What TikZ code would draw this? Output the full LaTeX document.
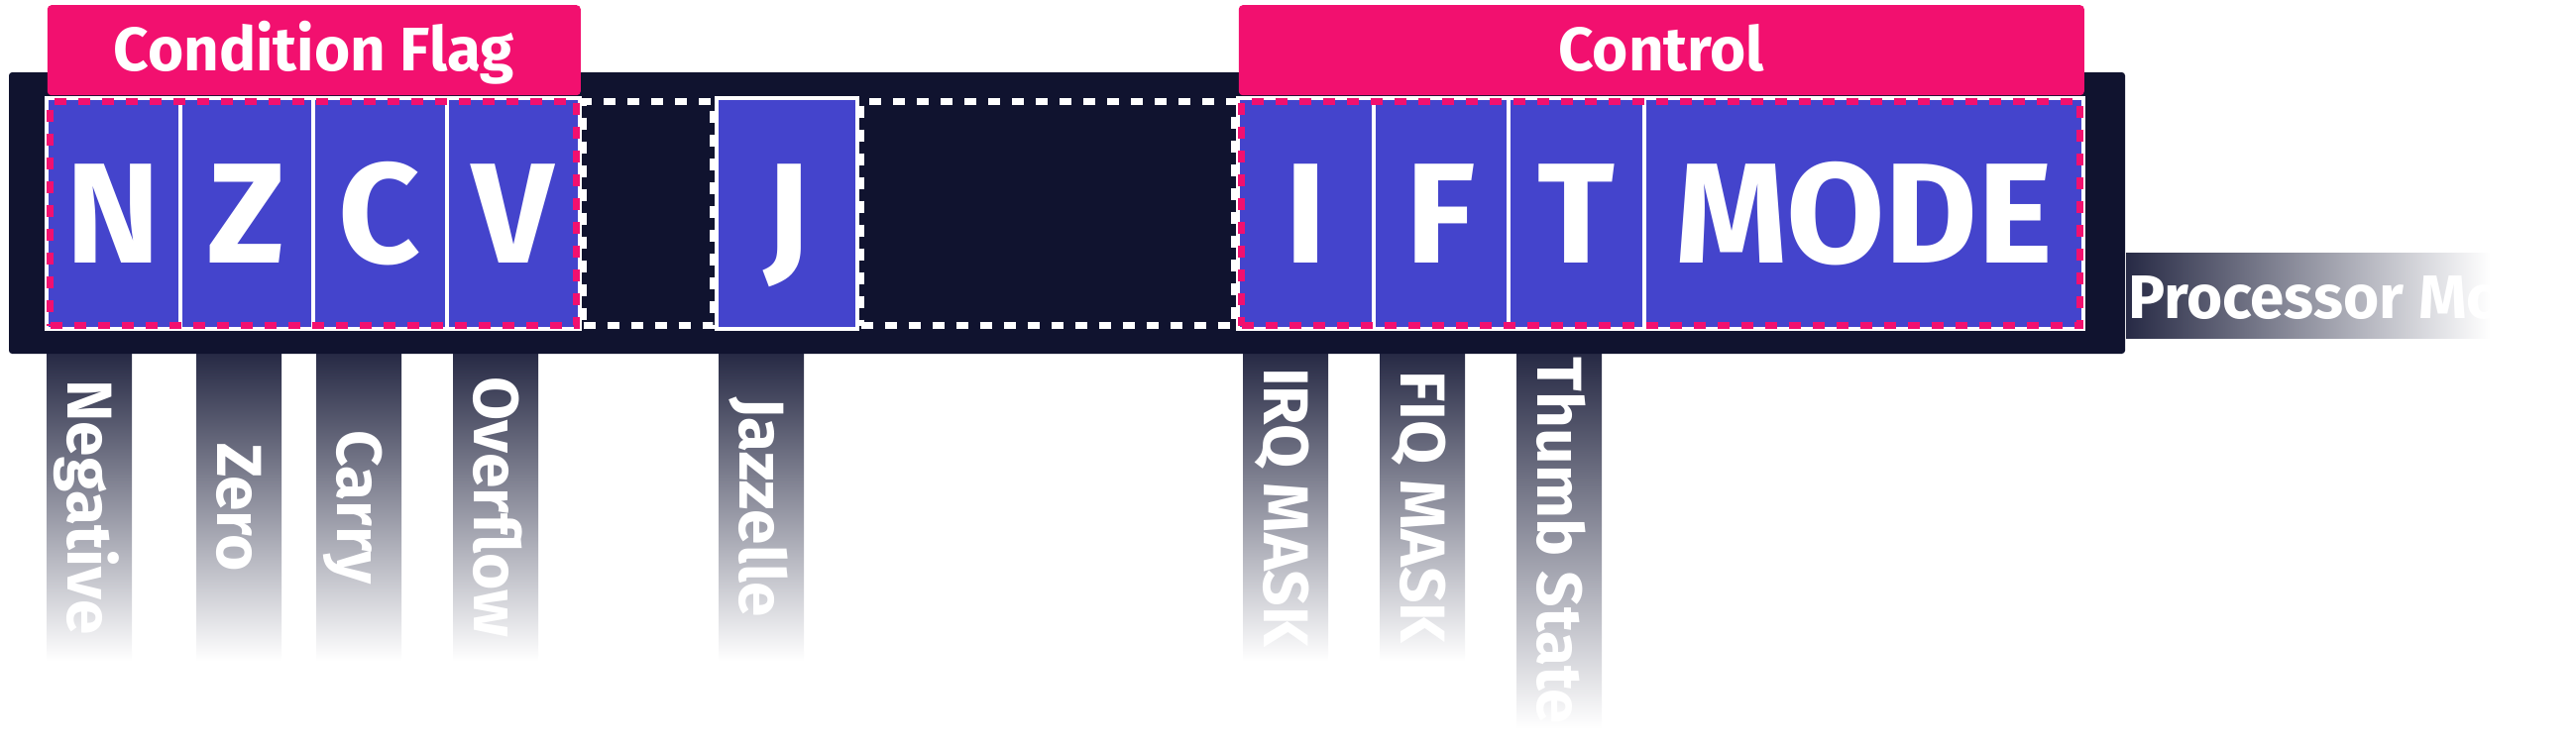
\documentclass[tikz,border=0pt]{standalone}
\usepackage{fontspec}
\setmainfont{Fira Sans}
\usepackage{graphicx}
\usetikzlibrary{positioning,fit}
\definecolor{regnavy}{HTML}{10132F}
\definecolor{regpink}{HTML}{F2106F}
\definecolor{regblue}{HTML}{4444CC}
\definecolor{regstrip}{HTML}{272A45}
\newcommand{\striptext}[1]{\rotatebox{-90}{\raisebox{0pt}[11pt][0pt]{#1}}}
\tikzset{
  regbar/.style={fill=regnavy,rounded corners=0.8pt,inner sep=0pt,outer sep=0pt,anchor=north west},
  bit/.style={draw=white,fill=regblue,line width=1pt,inner sep=0pt,outer sep=0pt,
              minimum height=58.25pt,minimum width=33.625pt,text=white,
              text height=24.75pt,text depth=0pt,font=\fontsize{36}{40}\selectfont\bfseries},
  blank/.style={draw=white,line width=1.75pt,dash pattern=on 3pt off 3pt,
                inner sep=0pt,outer sep=0pt,minimum height=56.5pt},
  grp/.style={draw=regpink,line width=1.75pt,dash pattern=on 3pt off 3pt,inner sep=-0.875pt},
  head/.style={fill=regpink,rounded corners=1pt,minimum height=22.75pt,inner sep=0pt,
               text=white,text height=10.5pt,text depth=0pt,
               font=\fontsize{15.5}{18}\selectfont\bfseries,anchor=south west},
  strip/.style={top color=regstrip,bottom color=white,inner sep=0pt,outer sep=0pt,
                minimum width=21.5pt,minimum height=77.5pt,anchor=north,text=white,
                font=\fontsize{16}{19}\selectfont\bfseries},
  pmstrip/.style={left color=regstrip,right color=white,inner sep=0pt,outer sep=0pt,
                  minimum width=91.75pt,minimum height=21.5pt,anchor=west},
  pmlab/.style={text=white,inner sep=0pt,anchor=west,
                font=\fontsize{15.5}{18}\selectfont\bfseries},
}
\begin{document}
\begin{tikzpicture}[x=0.25pt,y=-0.25pt]
  \useasboundingbox (0,0) rectangle (2599,754);
  % labels hanging below the register
  \node[strip] (neg) at (90,357) {\striptext{Negative}};
  \node[strip] (zero) at (241,357) {\striptext{Zero}};
  \node[strip] (carry) at (362,357) {\striptext{Carry}};
  \node[strip] (ovf) at (500,357) {\striptext{Overflow}};
  \node[strip] (jaz) at (768,357) {\striptext{Jazzelle}};
  \node[strip] (irq) at (1297,357) {\striptext{IRQ MASK}};
  \node[strip] (fiq) at (1435,357) {\striptext{FIQ MASK}};
  \node[strip,minimum height=94.5pt] (thumb) at (1573,357) {\striptext{Thumb State}};
  \node[pmstrip] (pmbox) at (2145,298) {};
  \begin{scope}
    \clip (pmbox.south west) rectangle (pmbox.north east);
    \node[pmlab] (pmlbl) at ([xshift=0.3pt]pmbox.west) {Processor Mode};
  \end{scope}
  % register body
  \node[regbar,minimum width=533.75pt,minimum height=71pt] (cpsr) at (9,73) {};
  \node[bit,anchor=north west] (n) at (47,99) {N};
  \node[bit,right=0pt of n] (z) {Z};
  \node[bit,right=0pt of z] (c) {C};
  \node[bit,right=0pt of c] (v) {V};
  \node[blank,minimum width=32.75pt,right=0.875pt of v] (res1) {};
  \node[bit,minimum width=35.5pt,right=0.875pt of res1] (j) {J};
  \node[blank,minimum width=94.25pt,right=0.875pt of j] (res2) {};
  \node[bit,minimum width=34.17pt,right=0.875pt of res2] (i) {I};
  \node[bit,minimum width=34.17pt,right=0pt of i] (f) {F};
  \node[bit,minimum width=34.17pt,right=0pt of f] (t) {T};
  \node[bit,minimum width=110.75pt,right=0pt of t] (mode) {MODE};
  \node[grp,fit=(n)(v)] (flags) {};
  \node[grp,fit=(i)(mode)] (ctrl) {};
  \node[head,minimum width=134.5pt] (cfhead) at ([yshift=0.5pt]n.north west) {Condition Flag};
  \node[head,minimum width=213.25pt] (ctlhead) at ([yshift=0.5pt]i.north west) {Control};
\end{tikzpicture}
\end{document}
